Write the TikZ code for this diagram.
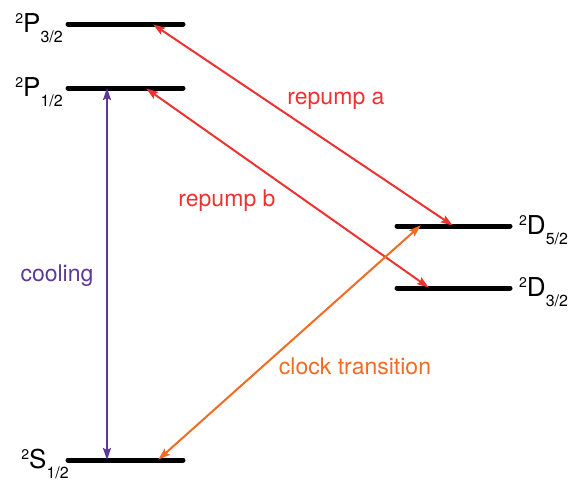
\documentclass[tikz,border=0pt]{standalone}
\usepackage{fontspec}
\setmainfont{TeX Gyre Heros}
\usetikzlibrary{arrows.meta}
\definecolor{rred}{HTML}{EE3232}
\definecolor{cpurple}{HTML}{5B3A99}
\definecolor{corange}{HTML}{F26B22}
\newcommand\lvltxt[3]{{\fontsize{14}{14}\selectfont\raisebox{9pt}{#1}}{\fontsize{26}{26}\selectfont #2}{\fontsize{16}{16}\selectfont\raisebox{-10pt}{#3}}}
\tikzset{
  level/.style={line width=5pt, line cap=round, black},
  lvllabel/.style={inner sep=0pt, font=\fontsize{26}{26}\selectfont},
  trans/.style={line width=2pt, {Stealth[length=12pt,width=8pt,inset=2pt]}-{Stealth[length=12pt,width=8pt,inset=2pt]}, shorten <=-1pt, shorten >=-1pt},
  tlabel/.style={inner sep=0pt, anchor=base, font=\fontsize{23}{23}\selectfont},
}
\begin{document}
\begin{tikzpicture}[x=1pt,y=-1pt]
\useasboundingbox (0,0) rectangle (574,480);
% levels
\draw[level] (68,24) coordinate (p3l) -- (183,24) coordinate (p3r);
\draw[level] (68,88) coordinate (p1l) -- (183,88) coordinate (p1r);
\draw[level] (68,460) coordinate (sl) -- (183,460) coordinate (sr);
\draw[level] (397,226) coordinate (d5l) -- (510,226) coordinate (d5r);
\draw[level] (397,288) coordinate (d3l) -- (510,288) coordinate (d3r);
% labels
\node[lvllabel, anchor=base east] (lp3) at (63,32) {\lvltxt{2}{P}{3/2}};
\node[lvllabel, anchor=base east] (lp1) at (63,96) {\lvltxt{2}{P}{1/2}};
\node[lvllabel, anchor=base east] (ls) at (69,468) {\lvltxt{2}{S}{1/2}};
\node[lvllabel, anchor=base west] (ld5) at (519,234) {\lvltxt{2}{D}{5/2}};
\node[lvllabel, anchor=base west] (ld3) at (519,296) {\lvltxt{2}{D}{3/2}};
% endpoints
\coordinate (ra1) at (154,25);
\coordinate (ra2) at (452,225);
\coordinate (rb1) at (147,89);
\coordinate (rb2) at (428,287);
\coordinate (c1) at (107,89);
\coordinate (c2) at (107,459);
\coordinate (k1) at (159,459);
\coordinate (k2) at (420,226);
% transitions
\draw[trans, rred] (ra1) -- (ra2);
\draw[trans, rred] (rb1) -- (rb2);
\draw[trans, cpurple] (c1) -- (c2);
\draw[trans, corange] (k1) -- (k2);
% transition labels
\node[tlabel, text=rred] (tra) at (336,104) {repump a};
\node[tlabel, text=rred] (trb) at (227,206) {repump b};
\node[tlabel, text=cpurple] (tc) at (57,281) {cooling};
\node[tlabel, text=corange] (tk) at (355,374) {clock transition};
\end{tikzpicture}
\end{document}
